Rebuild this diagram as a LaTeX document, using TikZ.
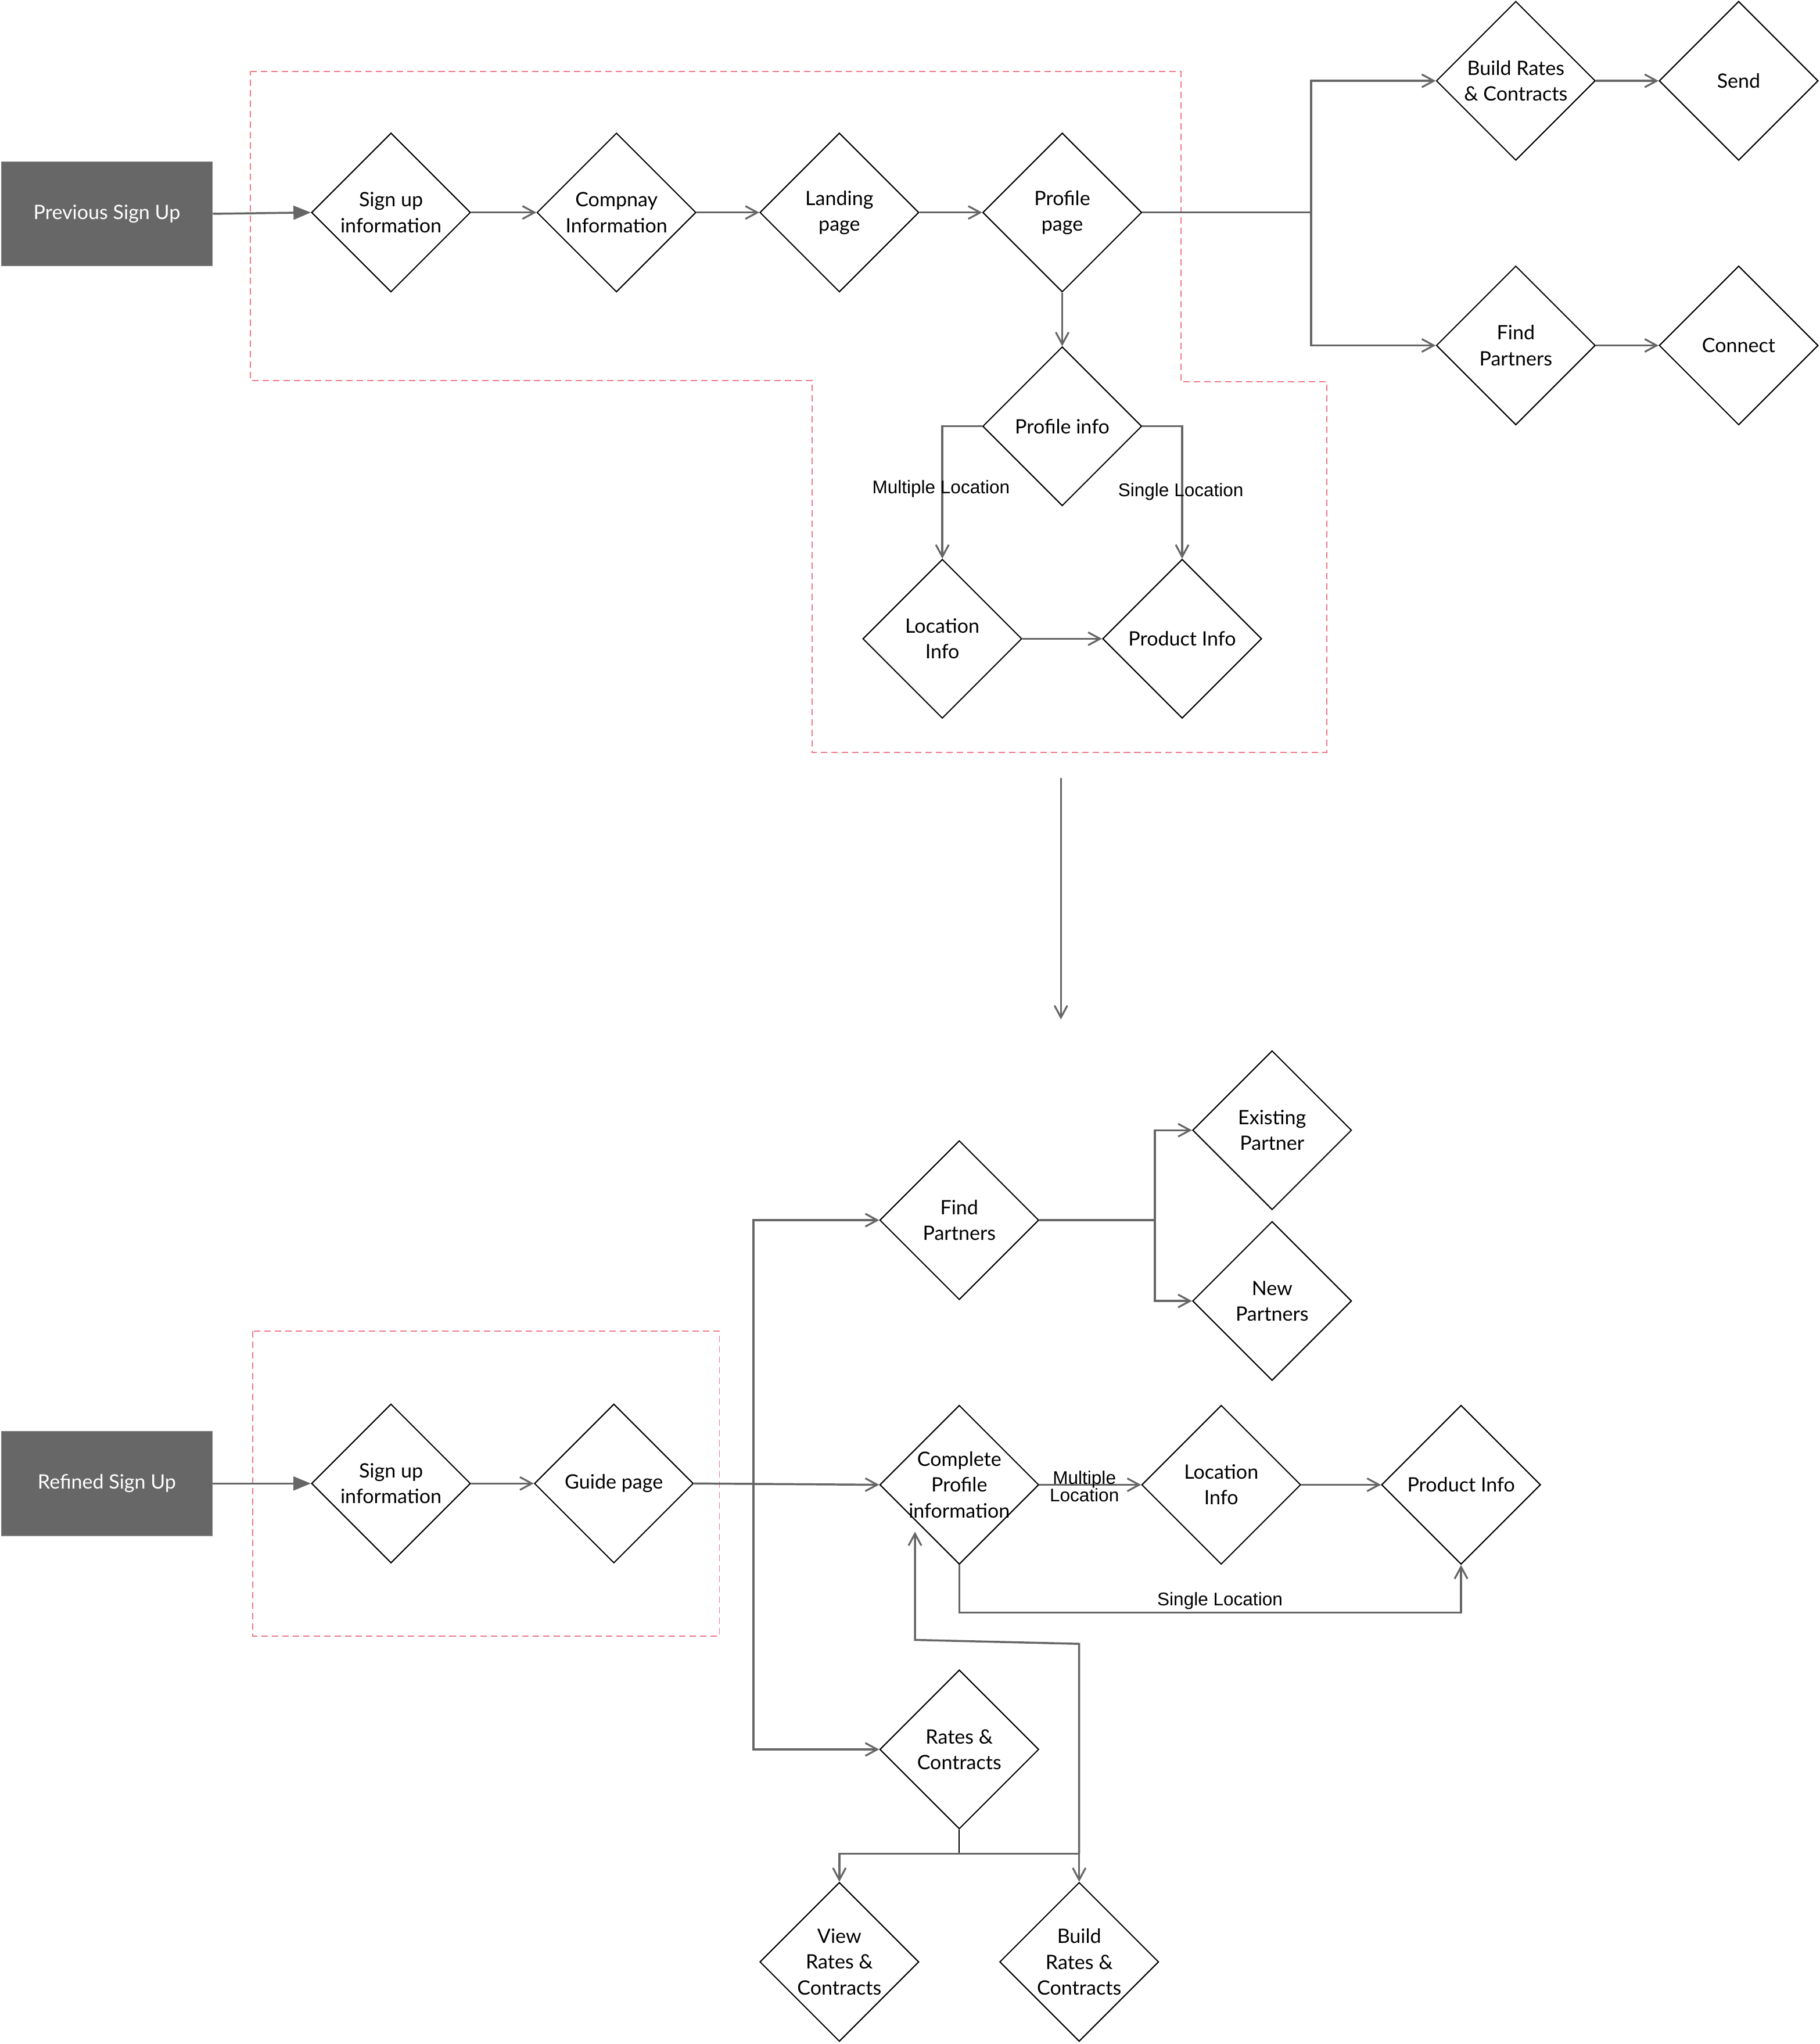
\documentclass[tikz,border=0pt]{standalone}
\usepackage{fontspec}
\setmainfont{Lato}
\newfontfamily\labelfont{Liberation Sans}
\usetikzlibrary{shapes.geometric,arrows.meta,calc}
\definecolor{flow}{HTML}{666666}
\definecolor{boxgray}{HTML}{676767}
\definecolor{groupline}{RGB}{240,118,136}
\begin{document}
\begin{tikzpicture}[x=0.025cm,y=-0.025cm,
  dia/.style={diamond,draw=black,line width=0.65pt,minimum width=3.05cm,minimum height=3.05cm,inner sep=0pt,fill=white},
  txt/.style={align=center,font=\fontsize{10.8}{14}\selectfont,inner sep=0pt},
  startbox/.style={rectangle,fill=boxgray,draw=boxgray!85!white,line width=0.4pt,minimum width=4.05cm,minimum height=2cm,text=white,font=\fontsize{10.8}{14}\selectfont},
  conn/.style={draw=flow,line width=1.1pt},
  arr/.style={conn,-{Straight Barb[length=6.5pt,width=7pt,line width=1pt]}},
  filledarr/.style={conn,-{Triangle[length=9.5pt,width=7.5pt]}},
  edgelabel/.style={font=\labelfont\fontsize{10}{11.5}\selectfont,align=center,inner sep=0pt},
  group/.style={draw=groupline,line width=0.6pt,dash pattern=on 3.5pt off 2.2pt}
]
\useasboundingbox (0,0) rectangle (1396,1568);

% ---------- previous sign up flow ----------
\draw[group] (192,55) -- (906,55) -- (906,293) -- (1018,293) -- (1018,577)
  -- (623,577) -- (623,292) -- (192,292) -- cycle;

\node[startbox] (prev) at (82,164) {Previous Sign Up};
\node[dia,label={[txt]center:Sign up\\information}] (psign) at (300,163) {};
\node[dia,label={[txt]center:Compnay\\Information}] (pcomp) at (473,163) {};
\node[dia,label={[txt]center:Landing\\page}] (pland) at (644,163) {};
\node[dia,label={[txt]center:Profile\\page}] (pprof) at (815,163) {};
\node[dia,label={[txt]center:Build Rates\\\& Contracts}] (pbuild) at (1163,62) {};
\node[dia,label={[txt]center:Send}] (psend) at (1334,62) {};
\node[dia,label={[txt]center:Find\\Partners}] (pfind) at (1163,265) {};
\node[dia,label={[txt]center:Connect}] (pconn) at (1334,265) {};
\node[dia,label={[txt]center:Profile info}] (pinfo) at (815,327) {};
\node[dia,label={[txt]center:Location\\Info}] (ploc) at (723,490) {};
\node[dia,label={[txt]center:Product Info}] (pprod) at (907,490) {};

\coordinate (psplit) at (1006,163);

\draw[filledarr] (prev.east) -- (psign.west);
\draw[arr] (psign.east) -- (pcomp.west);
\draw[arr] (pcomp.east) -- (pland.west);
\draw[arr] (pland.east) -- (pprof.west);
\draw[conn] (pprof.east) -- (psplit);
\draw[arr] (psplit) |- (pbuild.west);
\draw[arr] (psplit) |- (pfind.west);
\draw[arr] (pbuild.east) -- (psend.west);
\draw[arr] (pfind.east) -- (pconn.west);
\draw[arr] (pprof.south) -- (pinfo.north);
\draw[arr] (pinfo.west) -| (ploc.north);
\draw[arr] (pinfo.east) -| (pprod.north);
\draw[arr] (ploc.east) -- (pprod.west);

\node[edgelabel] (lmulti) at (722,375) {Multiple Location};
\node[edgelabel] (lsingle) at (906,377) {Single Location};

% ---------- transition ----------
\coordinate (tfrom) at (814,597);
\coordinate (tto) at (814,782);
\draw[arr] (tfrom) -- (tto);

% ---------- refined sign up flow ----------
\draw[group] (194,1021) rectangle (552,1255);

\node[startbox] (refd) at (82,1138) {Refined Sign Up};
\node[dia,label={[txt]center:Sign up\\information}] (rsign) at (300,1138) {};
\node[dia,label={[txt]center:Guide page}] (rguide) at (471,1138) {};
\node[dia,label={[txt]center:Find\\Partners}] (rfind) at (736,936) {};
\node[dia,label={[txt]center:Existing\\Partner}] (rexist) at (976,867) {};
\node[dia,label={[txt]center:New\\Partners}] (rnew) at (976,998) {};
\node[dia,label={[txt]center:Complete\\Profile\\information}] (rprof) at (736,1139) {};
\node[dia,label={[txt]center:Location\\Info}] (rloc) at (937,1139) {};
\node[dia,label={[txt]center:Product Info}] (rprod) at (1121,1139) {};
\node[dia,label={[txt]center:Rates \&\\Contracts}] (rrates) at (736,1342) {};
\node[dia,label={[txt]center:View\\Rates \&\\Contracts}] (rview) at (644,1505) {};
\node[dia,label={[txt]center:Build\\Rates \&\\Contracts}] (rbuild) at (828,1505) {};

\coordinate (rsplit) at (578,1138);
\coordinate (fsplit) at (886,936);
\coordinate (ratesjoin) at (736,1422);
\coordinate (buildjoin) at (828,1422);
\coordinate (loopa) at (828,1261);
\coordinate (loopb) at (702,1258);
\coordinate (looptip) at (702,1175);
\coordinate (singlecorner) at (736,1237);

\draw[filledarr] (refd.east) -- (rsign.west);
\draw[arr] (rsign.east) -- (rguide.west);
\draw[arr] (rguide.east) -- (rprof.west);
\draw[arr] (rsplit) |- (rfind.west);
\draw[arr] (rsplit) |- (rrates.west);
\draw[conn] (rfind.east) -- (fsplit);
\draw[arr] (fsplit) |- (rexist.west);
\draw[arr] (fsplit) |- (rnew.west);
\draw[arr] (rprof.east) -- (rloc.west);
\draw[arr] (rloc.east) -- (rprod.west);
\draw[arr] (rprof.south) -- (singlecorner) -| (rprod.south);
\draw[conn,draw=black,line width=0.65pt] (rrates.south) -- (ratesjoin);
\draw[arr] (ratesjoin) -| (rview.north);
\draw[arr] (ratesjoin) -| (rbuild.north);
\draw[arr] (buildjoin) -- (loopa) -- (loopb) -- (looptip);

\node[edgelabel] (lmulti2) at (832,1140) {Multiple\\[-2pt]Location};
\node[edgelabel] (lsingle2) at (936,1228) {Single Location};
\end{tikzpicture}
\end{document}
